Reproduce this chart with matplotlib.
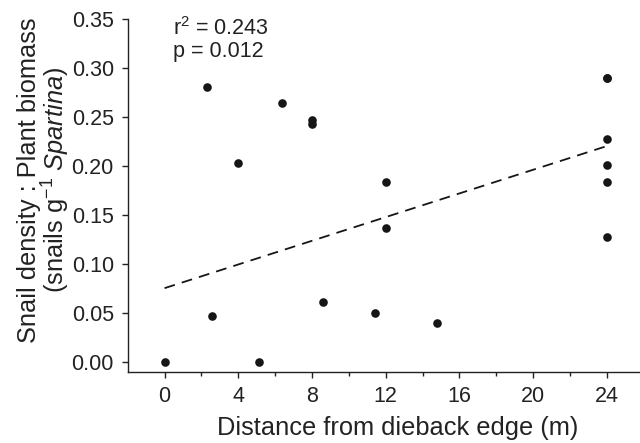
import matplotlib
matplotlib.use("Agg")
import matplotlib.pyplot as plt
import numpy as np

plt.rcParams['font.family'] = ['Liberation Sans', 'DejaVu Sans']
plt.rcParams['mathtext.fontset'] = 'custom'
plt.rcParams['mathtext.rm'] = 'Liberation Sans'
plt.rcParams['mathtext.it'] = 'Liberation Sans:italic'

# Data
distance = [0, 2.3, 2.6, 4.0, 5.1, 6.4, 8.0, 8.0, 8.6, 11.4, 12.0, 12.0, 14.8,
            24, 24, 24, 24, 24, 24]
ratio = [0.000, 0.280, 0.047, 0.203, 0.000, 0.264, 0.247, 0.242, 0.061, 0.050,
         0.183, 0.136, 0.039, 0.289, 0.289, 0.227, 0.201, 0.183, 0.127]

fit_x = [0, 24]
fit_intercept = 0.075
fit_slope = 0.00604

xticks = [0, 4, 8, 12, 16, 20, 24]
yticks = [0.00, 0.05, 0.10, 0.15, 0.20, 0.25, 0.30, 0.35]

fig = plt.figure(figsize=(6.4, 4.43), dpi=100)
ax = fig.add_axes([0.1995, 0.161, 0.8005, 0.797])

ax.plot(distance, ratio, 'o', color='#161616', markersize=6.2, markeredgewidth=0)
fx = np.array(fit_x)
ax.plot(fx, fit_intercept + fit_slope * fx, color='#161616', lw=1.3,
        dashes=(6, 4))

ax.set_xlim(-2, 25.8)
ax.set_ylim(-0.0102, 0.35)
ax.set_xticks(xticks)
ax.set_xticks([2, 6, 10, 14, 18, 22], minor=True)
ax.set_yticks(yticks)
ax.set_yticklabels([f"{v:.2f}" for v in yticks])

for s in ['top', 'right']:
    ax.spines[s].set_visible(False)
for s in ['left', 'bottom']:
    ax.spines[s].set_linewidth(1.0)
    ax.spines[s].set_color('#222222')
ax.spines['left'].set_bounds(-0.0102, 0.35)

ax.tick_params(axis='both', which='major', labelsize=15.5, length=4, width=1,
               color='#222222', labelcolor='#222222', pad=6)
ax.tick_params(axis='x', which='minor', length=3, width=1, color='#222222')

ax.set_xlabel('Distance from dieback edge (m)', fontsize=18.3, color='#222222')
ax.xaxis.set_label_coords(0.528, -0.126)
ax.set_ylabel('Snail density : Plant biomass\n(snails g$^{-1}$ $\\it{Spartina}$)',
              fontsize=18.3, color='#222222', linespacing=0.95)
ax.yaxis.set_label_coords(-0.109, 0.542)

ax.text(0.088, 1.005, 'r$^2$ = 0.243\np = 0.012', transform=ax.transAxes,
        fontsize=15.5, va='top', ha='left', color='#222222', linespacing=1.1)

fig.savefig('out.png', dpi=100)
